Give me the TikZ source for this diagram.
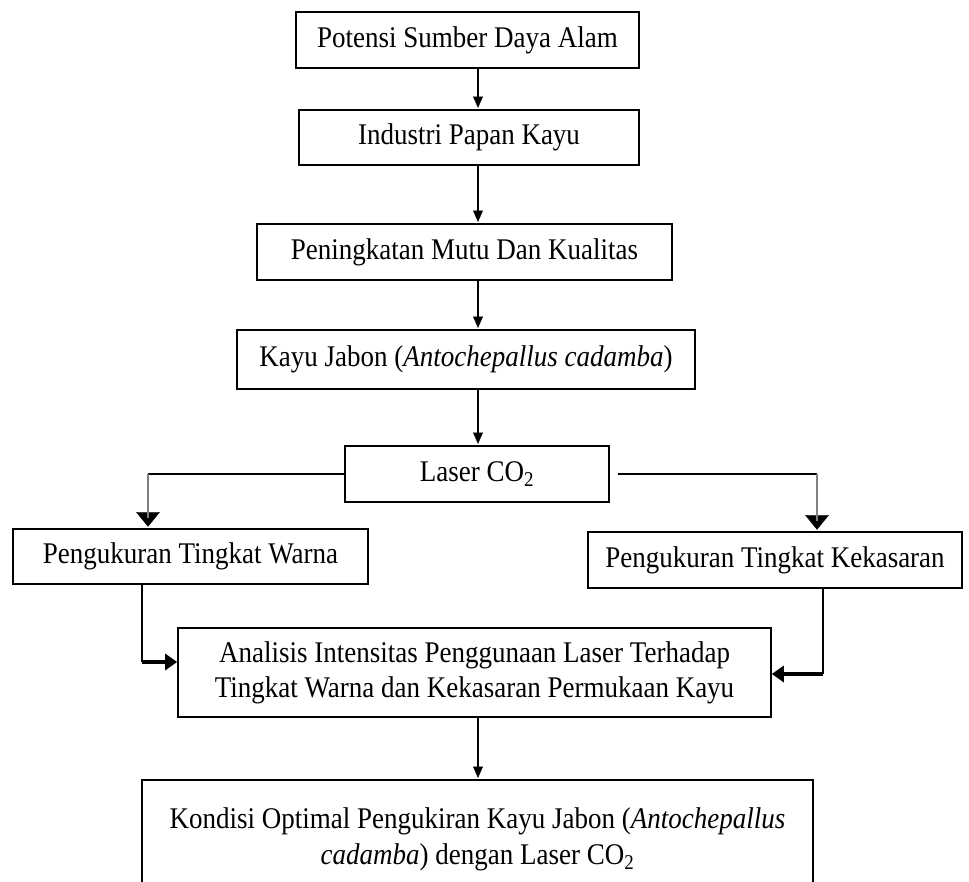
\documentclass[tikz,border=0pt]{standalone}
\usepackage{fontspec}
\setmainfont{Liberation Serif}[FakeStretch=0.9]
\usepackage{tikz}
\usepackage{xcolor}
\definecolor{lgray}{RGB}{128,128,128}
\usetikzlibrary{positioning, calc, arrows.meta, decorations.markings}
\tikzstyle{Box} = [
draw,
line width=1.6pt,
rectangle,
inner sep=0pt,
align=center,
font=\fontsize{30}{35}\selectfont]
\tikzstyle{Line} = [line width=1.4pt]
\tikzstyle{Arrow} = [
line width=1.4pt,
decoration={
markings,
mark=at position 0.9999 with {
\arrow{Triangle[length=13pt, width=11pt]}}},
shorten >= 6pt, preaction = {decorate}]
\tikzstyle{ArrowGray} = [
line width=2.2pt,
lgray,
decoration={
markings,
mark=at position 0.9999 with {
\arrow[black]{Triangle[length=17pt, width=27pt]}}},
shorten >= 10pt, preaction = {decorate}]
\tikzstyle{ArrowBold} = [
line width=3.6pt,
decoration={
markings,
mark=at position 0.9999 with {
\arrow{Triangle[length=12pt, width=16pt]}}},
shorten >= 8pt, preaction = {decorate}]

\begin{document}
\begin{tikzpicture}[x=1pt, y=-1pt]
    \useasboundingbox (0,0) rectangle (969,882);
    \clip (0,0) rectangle (969,882);

    \node[Box, minimum width=343pt, minimum height=56pt] (potensi) at (467.5,40) {Potensi Sumber Daya Alam};
    \node[Box, minimum width=340pt, minimum height=55pt] (industri) at (469,137.5) {Industri Papan Kayu};
    \node[Box, minimum width=415pt, minimum height=56pt] (mutu) at (464.5,252) {Peningkatan Mutu Dan Kualitas};
    \node[Box, minimum width=458pt, minimum height=59pt] (jabon) at (466,359.5) {Kayu Jabon (\textit{Antochepallus cadamba})};
    \node[Box, minimum width=264pt, minimum height=56pt] (laser) at (477,474) {Laser CO\textsubscript{2}};
    \node[Box, minimum width=355pt, minimum height=55pt] (warna) at (190.5,556.5) {Pengukuran Tingkat Warna};
    \node[Box, minimum width=374pt, minimum height=56pt] (kekasaran) at (775,560) {Pengukuran Tingkat Kekasaran};
    \node[Box, minimum width=593pt, minimum height=89pt] (analisis) at (474.5,672.5) {Analisis Intensitas Penggunaan Laser Terhadap\\Tingkat Warna dan Kekasaran Permukaan Kayu};
    \node[Box, minimum width=671pt, minimum height=118pt, font=\fontsize{30}{36}\selectfont] (kondisi) at (477.5,839) {Kondisi Optimal Pengukiran Kayu Jabon (\textit{Antochepallus}\\\textit{cadamba}) dengan Laser CO\textsubscript{2}};

    \coordinate (spine) at (478,0);
    \coordinate (ldrop) at (148,0);
    \coordinate (rdrop) at (817,0);
    \coordinate (lin) at (142,662);
    \coordinate (rin) at (823,674);

    \draw[Arrow] (potensi.south -| spine) -- (industri.north -| spine);
    \draw[Arrow] (industri.south -| spine) -- (mutu.north -| spine);
    \draw[Arrow] (mutu.south -| spine) -- (jabon.north -| spine);
    \draw[Arrow] (jabon.south -| spine) -- (laser.north -| spine);
    \draw[Line] (laser.west) -- (laser.west -| ldrop);
    \draw[ArrowGray] (laser.west -| ldrop) -- (warna.north -| ldrop);
    \draw[Line] ([xshift=8pt]laser.east) -- (laser.east -| rdrop);
    \draw[ArrowGray] (laser.east -| rdrop) -- (kekasaran.north -| rdrop);
    \draw[Line] (warna.south -| lin) -- (lin);
    \draw[ArrowBold] (lin) -- (analisis.west |- lin);
    \draw[Line] (kekasaran.south -| rin) -- (rin);
    \draw[ArrowBold] (rin) -- (analisis.east |- rin);
    \draw[Arrow] (analisis.south -| spine) -- (kondisi.north -| spine);
\end{tikzpicture}
\end{document}
